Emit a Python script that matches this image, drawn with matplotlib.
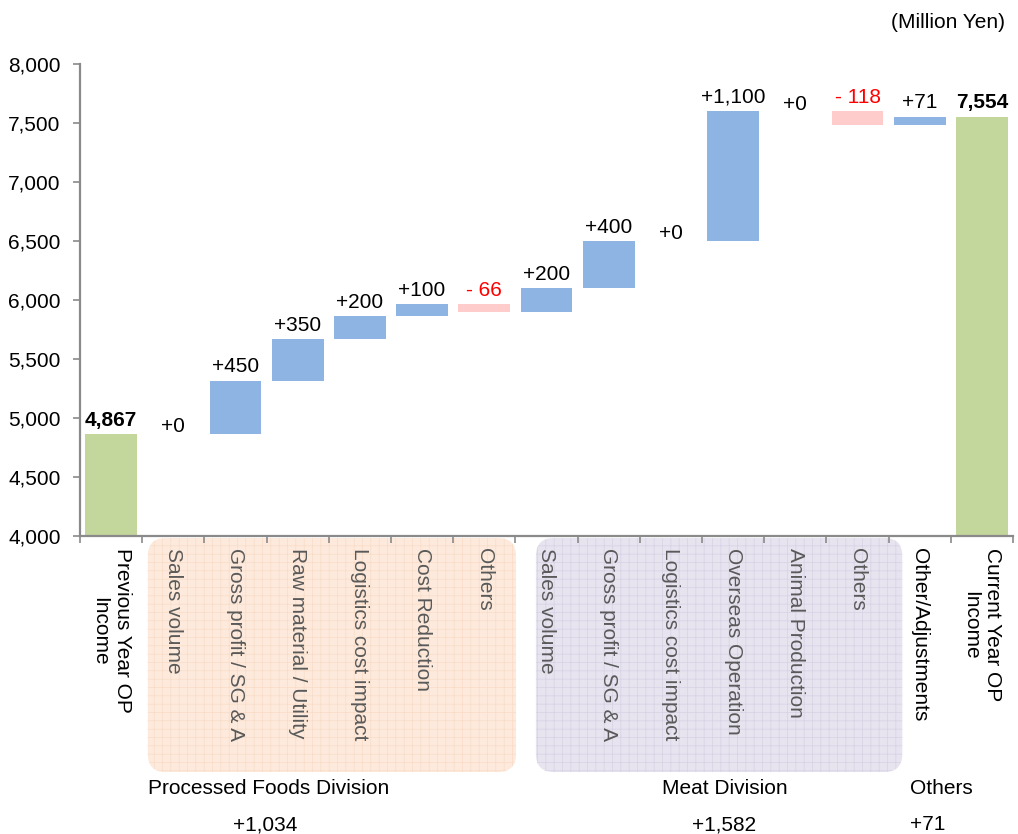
import matplotlib
matplotlib.use("Agg")
import matplotlib.pyplot as plt
import numpy as np
from matplotlib.patches import FancyBboxPatch
from matplotlib.transforms import IdentityTransform, blended_transform_factory
from matplotlib.ticker import FuncFormatter, MultipleLocator

plt.rcParams['font.family'] = ['Liberation Sans', 'DejaVu Sans']
plt.rcParams['hatch.linewidth'] = 0.5

categories = ["Previous Year OP\nIncome", "Sales volume", "Gross profit / SG & A",
              "Raw material / Utility", "Logistics cost impact", "Cost Reduction", "Others",
              "Sales volume", "Gross profit / SG & A", "Logistics cost impact",
              "Overseas Operation", "Animal Production", "Others", "Other/Adjustments",
              "Current Year OP\nIncome"]
start_value = 4867
changes = [0, 450, 350, 200, 100, -66, 200, 400, 0, 1100, 0, -118, 71]
end_value = 7554

groups = ["Processed Foods Division", "Meat Division", "Others"]
group_totals = ["+1,034", "+1,582", "+71"]

blue = "#8eb4e3"
pink = "#ffcccc"
green = "#c3d69b"
axis_gray = "#8a8a8a"

fig = plt.figure(figsize=(10.18, 8.34), dpi=100)
ax = fig.add_axes([80 / 1018, 1 - 536 / 834, 933 / 1018, 472 / 834])
ax.set_facecolor('none')

x = np.arange(len(categories))
width = 0.83

# start / end totals
ax.bar(x[0], start_value, width, color=green, zorder=2)
ax.bar(x[-1], end_value, width, color=green, zorder=2)
ax.annotate(f"{start_value:,}", (x[0], start_value), xytext=(0, 3), textcoords='offset points',
            ha='center', va='bottom', fontsize=15, fontweight='bold')
ax.annotate(f"{end_value:,}", (x[-1], end_value), xytext=(0, 3), textcoords='offset points',
            ha='center', va='bottom', fontsize=15, fontweight='bold')

level = start_value
for i, c in enumerate(changes):
    xi = x[i + 1]
    new = level + c
    if c != 0:
        ax.bar(xi, c, width, bottom=level, color=blue if c > 0 else pink,
               linewidth=0, zorder=2)
        txt = f"+{c:,}" if c > 0 else f"- {-c:,}"
        col = "black" if c > 0 else "#ff0000"
        ax.annotate(txt, (xi, max(level, new)), xytext=(0, 3), textcoords='offset points',
                    ha='center', va='bottom', fontsize=15, color=col)
    else:
        ax.annotate("+0", (xi, level), xytext=(0, 5), textcoords='offset points',
                    ha='center', va='center', fontsize=15)
    level = new

ax.set_xlim(-0.5, len(categories) - 0.5)
ax.set_ylim(4000, 8000)
ax.yaxis.set_major_locator(MultipleLocator(500))
ax.yaxis.set_major_formatter(FuncFormatter(lambda v, p: f"{int(v):,}"))

for s in ['top', 'right']:
    ax.spines[s].set_visible(False)
for s in ['left', 'bottom']:
    ax.spines[s].set_color(axis_gray)
    ax.spines[s].set_linewidth(1.6)

ax.tick_params(axis='y', direction='out', length=5, width=1.2, color=axis_gray,
               labelsize=15, pad=9)
ax.set_xticks(x)
ax.set_xticklabels(categories, rotation=270, va='top', ha='center',
                   multialignment='center', fontsize=15)
ax.tick_params(axis='x', which='major', length=0, pad=9)
ax.set_xticks(np.arange(-0.5, len(categories)), minor=True)
ax.tick_params(axis='x', which='minor', direction='out', length=5, width=1.2, color=axis_gray)
for i, lab in enumerate(ax.get_xticklabels()):
    if 1 <= i <= 12:
        lab.set_color("#595959")

# group background boxes
fig.canvas.draw()
box_specs = [(0.59, 6.51, "#fdeadc", "#f9dcc6"), (6.83, 12.72, "#e7e3ef", "#d8d2e4")]
for x0, x1, face, hatch_col in box_specs:
    px0 = ax.transData.transform((x0, 4000))[0]
    px1 = ax.transData.transform((x1, 4000))[0]
    y0 = 834 - 772
    y1 = 834 - 538
    box = FancyBboxPatch((px0, y0), px1 - px0, y1 - y0,
                         boxstyle="round,pad=0,rounding_size=18",
                         transform=IdentityTransform(), facecolor=face,
                         edgecolor=hatch_col, hatch='++', linewidth=0, zorder=-1)
    fig.add_artist(box)

# group names and totals
trans = blended_transform_factory(ax.transData, fig.transFigure)
ax.text(2.53, 1 - 788 / 834, groups[0], transform=trans, ha='center', va='center', fontsize=15)
ax.text(2.47, 1 - 825 / 834, group_totals[0], transform=trans, ha='center', va='center', fontsize=15)
ax.text(9.86, 1 - 788 / 834, groups[1], transform=trans, ha='center', va='center', fontsize=15)
ax.text(9.86, 1 - 825 / 834, group_totals[1], transform=trans, ha='center', va='center', fontsize=15)
ax.text(12.84, 1 - 788 / 834, groups[2], transform=trans, ha='left', va='center', fontsize=15)
ax.text(12.84, 1 - 825 / 834, group_totals[2], transform=trans, ha='left', va='center', fontsize=15)

fig.text(1005 / 1018, 1 - 22 / 834, "(Million Yen)", ha='right', va='center', fontsize=15)

fig.savefig("out.png", dpi=100)
